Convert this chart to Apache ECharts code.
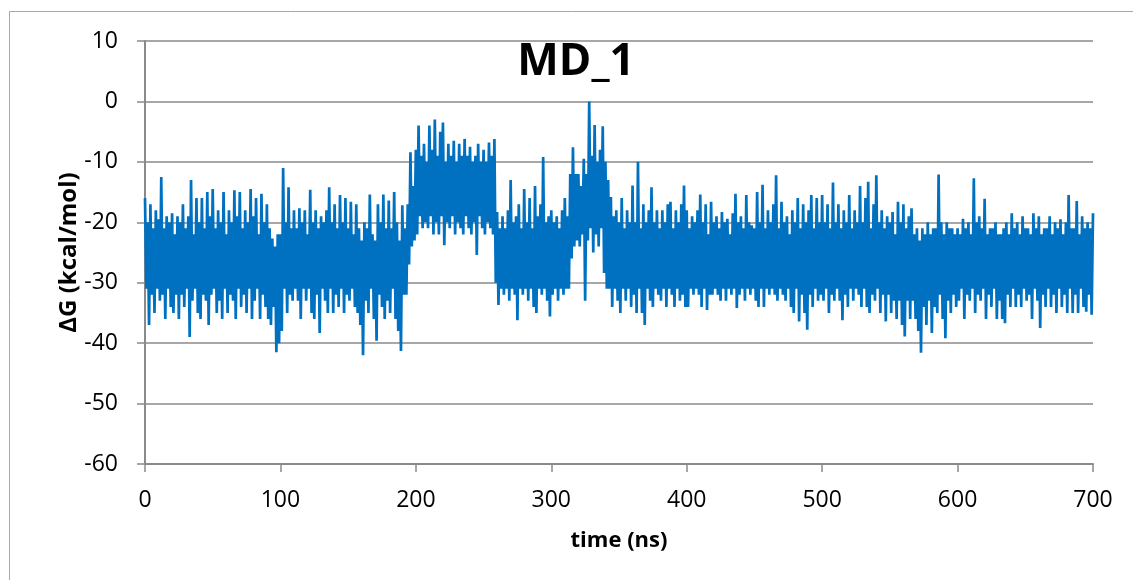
<!DOCTYPE html>
<html>
<head>
<meta charset="utf-8">
<script src="https://cdn.jsdelivr.net/npm/echarts@6/dist/echarts.min.js"></script>
<style>
html,body{margin:0;padding:0;background:#fff;}
#chart{width:1133px;height:580px;}
</style>
</head>
<body>
<div id="chart"></div>
<script>
// Axis ticks
var xTicks = [0, 100, 200, 300, 400, 500, 600, 700];
var yTicks = [-60, -50, -40, -30, -20, -10, 0, 10];

// ΔG trace (kcal/mol), read from the picture as its upper and lower excursions:
// "hi" values sit at even nanoseconds (t = 0, 2, 4 ...), "lo" values at odd ones (t = 1, 3, 5 ...).
var hi_000 = [-16,-20,-17,-21,-18, -19.5,-12.5,-21,-19,-20, -18.5,-22,-19,-20,-17, -21,-19,-13,-22,-16, -20,-16,-21,-15,-19, -14.5,-21,-18,-20,-15, -22,-18,-20,-14.7,-19, -15,-21,-18,-20,-14.5, -19,-16,-22,-15.3,-20, -17,-21,-22.7,-24,-22];
var lo_000 = [-31,-37,-32,-35,-31, -33,-32,-36,-31,-34, -35,-32,-36,-32,-34, -31,-39,-33,-31,-35, -36,-32,-33,-37,-32, -31,-35,-33,-36,-31, -35,-32,-33,-36,-31, -34,-32,-35,-31,-36, -33,-31,-36,-32,-34, -36,-37,-34,-41.5,-40];
var hi_100 = [-22,-11,-20,-14.2,-21, -18,-21,-17.7,-20,-18, -22,-14.6,-20,-18,-21, -19,-20,-18,-14.2,-20, -17,-21,-15.5,-20,-16, -21,-16.6,-22,-17,-21, -23,-20,-21,-15.4,-22, -23,-17,-20,-15.4,-21, -16.4,-21,-15,-20,-23, -17.2,-21,-17,-8.4,-14];
var lo_100 = [-38,-31,-35,-32,-33, -31,-33,-36,-31,-33, -31,-35,-36,-32,-38.3, -31,-33,-35,-31,-35, -32,-34,-31,-35,-32, -33,-31,-34,-35,-37, -42,-33,-35,-31,-36, -39.6,-32,-34,-36,-33, -35,-31,-36,-38,-41.3, -32,-32,-27,-24,-23];
var hi_200 = [-8,-4,-9,-7,-10, -4,-8,-3,-9,-5, -3.5,-10,-7,-9,-6.5, -10,-7,-9,-6.2,-9, -7.5,-10,-9,-7,-10, -8,-10,-6.8,-9,-6.2, -18.3,-21,-19,-21,-18, -13,-20,-19,-17,-21, -14.5,-20,-16,-21,-14, -19,-17,-9.2,-20,-19];
var lo_200 = [-22,-19,-21,-20,-21, -19,-22,-20,-22,-19, -23.8,-20,-21,-19,-22, -20,-21,-22,-19,-21, -22,-20,-25.4,-19,-21, -22,-20,-21,-22,-30, -33.7,-31,-32,-31,-33, -31,-32,-36.2,-31,-32, -31,-33,-31,-34,-35, -31,-32,-31,-33,-35.6];
var hi_300 = [-18,-20,-19,-21,-18, -16,-19,-12,-7.6,-12, -12,-14,-9.5,-12,0, -9,-3.9,-10,-8,-4.1, -10,-13,-15.8,-19,-18, -20,-16,-21,-18,-20, -13.9,-20,-10,-21,-17, -20,-18,-14.2,-20,-18, -21,-18,-20,-17,-16.6, -21,-18,-20,-17,-13.9];
var lo_300 = [-32,-31,-33,-31,-32, -31,-31,-26,-24,-23, -24,-22,-33,-23,-21, -25,-22,-24,-21,-28.4, -31,-31,-34,-31,-33, -35,-31,-33,-31,-34, -32,-35,-31,-35,-37, -31,-33,-34,-31,-32, -33,-31,-34,-31,-32, -34,-31,-33,-32,-34];
var hi_400 = [-18,-21,-19,-20,-18, -15.4,-20,-17,-22,-16.6, -20,-19,-21,-18.3,-20, -19.4,-22,-18.5,-15.3,-20, -19,-21,-15.5,-20,-20.5, -21,-15,-20,-13.8,-21, -18,-20,-17,-12.2,-21, -16.6,-20,-19,-22,-18, -20,-16,-21,-17,-20, -18,-15.5,-21,-16,-20];
var lo_400 = [-34,-31,-32,-31,-32, -34,-31,-34.5,-32,-32, -31,-32,-33,-31,-33, -31,-32,-31,-34.2,-32, -31,-33,-31,-32,-31, -33,-34,-31,-34,-31, -32,-31,-32,-33,-31, -32,-33,-31,-34,-35, -31,-36.4,-32,-35,-37.8, -32,-34,-31,-33,-32];
var hi_500 = [-15.5,-20,-17,-21,-13.4, -20,-17,-21,-18,-20, -15.5,-21,-18,-20,-14, -20,-16,-13.3,-21,-17, -12.2,-20,-18,-21,-19, -20,-18.3,-22,-16.6,-20, -17,-21,-19,-17.7,-22, -21,-23,-21,-22,-20, -22,-21,-21,-12.1,-20, -22,-20,-21,-21,-22];
var lo_500 = [-33,-31,-35,-32,-33, -31,-33,-36.2,-32,-34, -31,-33,-31,-32,-34, -31,-34,-35,-32,-33, -31,-35,-32,-36.4,-32, -35,-33,-36,-33,-37, -38.9,-33,-36,-33,-36, -38,-41.6,-34,-37,-33, -38.3,-34,-35,-32,-36, -39.2,-33,-35,-32,-34];
var hi_600 = [-21,-22,-19.4,-21,-20, -22,-12.7,-20,-19,-21, -16.1,-22,-21,-21,-20, -22,-22,-21,-20,-22, -18.5,-21,-20,-22,-19, -21,-21,-22,-18.5,-21, -19,-22,-21,-21,-19, -22,-20,-21,-19.5,-22, -20,-15.5,-21,-21,-16.5, -22,-19,-21,-20,-21, -18.5];
var lo_600 = [-33,-31,-36,-32,-33, -31,-35,-32,-33,-31, -36,-32,-34,-31,-36, -33,-36,-36.7,-32,-34, -31,-34,-32,-34,-31, -33,-32,-36,-31,-33, -37.5,-32,-34,-31,-34, -32,-35,-31,-34,-32, -35,-31,-35,-32,-35, -31,-34,-34.8,-32,-35.3];

var hiBlocks = [hi_000, hi_100, hi_200, hi_300, hi_400, hi_500, hi_600];
var loBlocks = [lo_000, lo_100, lo_200, lo_300, lo_400, lo_500, lo_600];
var seriesData = [];
hiBlocks.forEach(function (hi, k) {
  var lo = loBlocks[k];
  for (var i = 0; i < hi.length; i++) {
    seriesData.push([k * 100 + 2 * i, hi[i]]);
    if (i < lo.length) seriesData.push([k * 100 + 2 * i + 1, lo[i]]);
  }
});

var gray = '#8a8a8a';
var font = '"Open Sans", "Liberation Sans", sans-serif';

var chart = echarts.init(document.getElementById('chart'), null, {renderer: 'canvas'});
chart.setOption({
  animation: false,
  backgroundColor: '#ffffff',
  title: {
    text: 'MD_1',
    left: 576,
    top: 40,
    textAlign: 'center',
    padding: 0,
    textStyle: {fontFamily: font, fontSize: 44, fontWeight: 'bold', color: '#000'}
  },
  graphic: [{
    type: 'rect',
    silent: true,
    shape: {x: 9.5, y: 11.5, width: 1300, height: 800},
    style: {fill: 'none', stroke: '#a8a8a8', lineWidth: 1}
  }],
  grid: {left: 145, right: 40, top: 41, bottom: 116, containLabel: false},
  xAxis: {
    type: 'value',
    min: xTicks[0],
    max: xTicks[xTicks.length - 1],
    interval: 100,
    name: 'time (ns)',
    nameLocation: 'middle',
    nameGap: 66,
    nameTextStyle: {fontFamily: font, fontSize: 22, fontWeight: 'bold', color: '#000'},
    axisLine: {show: true, onZero: false, lineStyle: {color: gray, width: 2}},
    axisTick: {show: true, length: 8, lineStyle: {color: gray, width: 1.5}},
    axisLabel: {fontFamily: font, fontSize: 23, color: '#000', margin: 36, verticalAlign: 'middle'},
    splitLine: {show: false}
  },
  yAxis: {
    type: 'value',
    min: yTicks[0],
    max: yTicks[yTicks.length - 1],
    interval: 10,
    name: 'ΔG (kcal/mol)',
    nameLocation: 'middle',
    nameGap: 64,
    nameRotate: 90,
    nameMoveOverlap: false,
    nameTextStyle: {fontFamily: font, fontSize: 24, fontWeight: 'bold', color: '#000'},
    axisLine: {show: true, lineStyle: {color: gray, width: 2}},
    axisTick: {show: true, length: 8, lineStyle: {color: gray, width: 1.5}},
    axisLabel: {fontFamily: font, fontSize: 23, color: '#000', margin: 27},
    splitLine: {show: true, lineStyle: {color: gray, width: 1.5}}
  },
  series: [{
    type: 'line',
    data: seriesData,
    showSymbol: false,
    symbol: 'none',
    sampling: null,
    lineStyle: {color: '#0070C0', width: 2.7},
    emphasis: {disabled: true}
  }]
});
</script>
</body>
</html>
